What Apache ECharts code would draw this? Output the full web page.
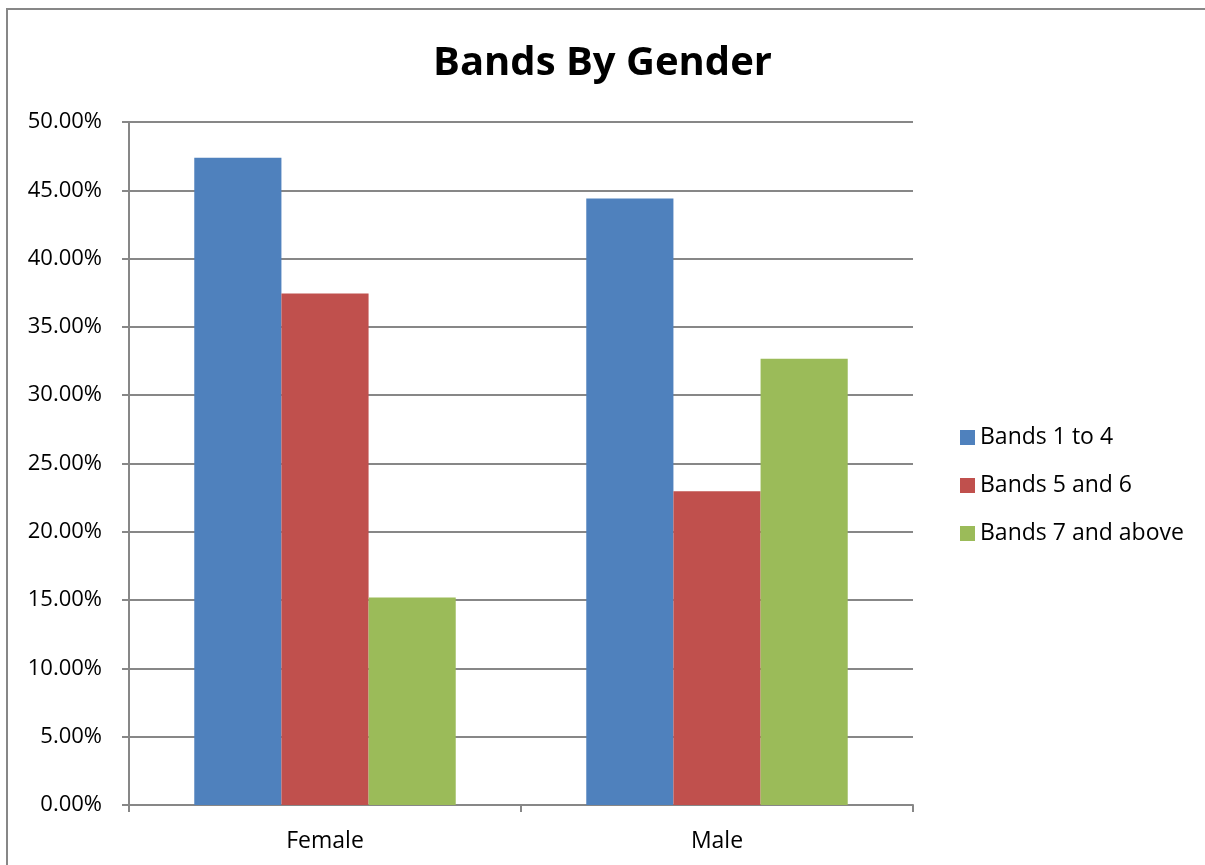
<!DOCTYPE html>
<html>
<head>
<meta charset="utf-8">
<style>
  html, body { margin: 0; padding: 0; background: #fff; }
  #chart { width: 1205px; height: 865px; }
</style>
<script src="https://cdn.jsdelivr.net/npm/echarts@6/dist/echarts.min.js"></script>
</head>
<body>
<div id="chart"></div>
<script>
const categories = ["Female", "Male"];
const bands1to4 = [47.38, 44.40];
const bands5and6 = [37.45, 22.97];
const bands7plus = [15.19, 32.66];
const yTicks = { min: 0, max: 50, interval: 5 };

const gray = "#878787";
const font = "'Open Sans', sans-serif";

const chart = echarts.init(document.getElementById("chart"), null, { renderer: "canvas" });
chart.setOption({
  animation: false,
  backgroundColor: "#fff",
  color: ["#4f81bd", "#c0504d", "#9bbb59"],
  title: {
    text: "Bands By Gender",
    left: "center",
    top: 39,
    textStyle: { fontFamily: font, fontWeight: "bold", fontSize: 40, color: "#000" }
  },
  graphic: [{
    type: "rect",
    shape: { x: 7, y: 9, width: 1300, height: 1000 },
    style: { fill: "none", stroke: gray, lineWidth: 2 },
    silent: true
  }],
  legend: {
    orient: "vertical",
    left: 955,
    top: 421,
    itemWidth: 15,
    itemHeight: 15,
    itemGap: 25,
    icon: "rect",
    textStyle: { fontFamily: font, fontSize: 23, color: "#000", lineHeight: 23 }
  },
  grid: { left: 129, right: 292, top: 122, bottom: 60 },
  xAxis: {
    type: "category",
    data: categories,
    axisLine: { lineStyle: { color: gray, width: 2 } },
    axisTick: { show: true, length: 7, lineStyle: { color: gray, width: 2 } },
    axisLabel: { fontFamily: font, fontSize: 23, color: "#000", margin: 25 }
  },
  yAxis: {
    type: "value",
    min: yTicks.min,
    max: yTicks.max,
    interval: yTicks.interval,
    axisLine: { show: true, lineStyle: { color: gray, width: 2 } },
    axisTick: { show: true, length: 7, lineStyle: { color: gray, width: 2 } },
    splitLine: { lineStyle: { color: gray, width: 2 } },
    axisLabel: {
      fontFamily: font, fontSize: 22, color: "#000", margin: 27,
      formatter: v => v.toFixed(2) + "%"
    }
  },
  series: [
    { name: "Bands 1 to 4", type: "bar", data: bands1to4, barGap: 0, barCategoryGap: "33.3%" },
    { name: "Bands 5 and 6", type: "bar", data: bands5and6, barGap: 0, barCategoryGap: "33.3%" },
    { name: "Bands 7 and above", type: "bar", data: bands7plus, barGap: 0, barCategoryGap: "33.3%" }
  ]
});
</script>
</body>
</html>
